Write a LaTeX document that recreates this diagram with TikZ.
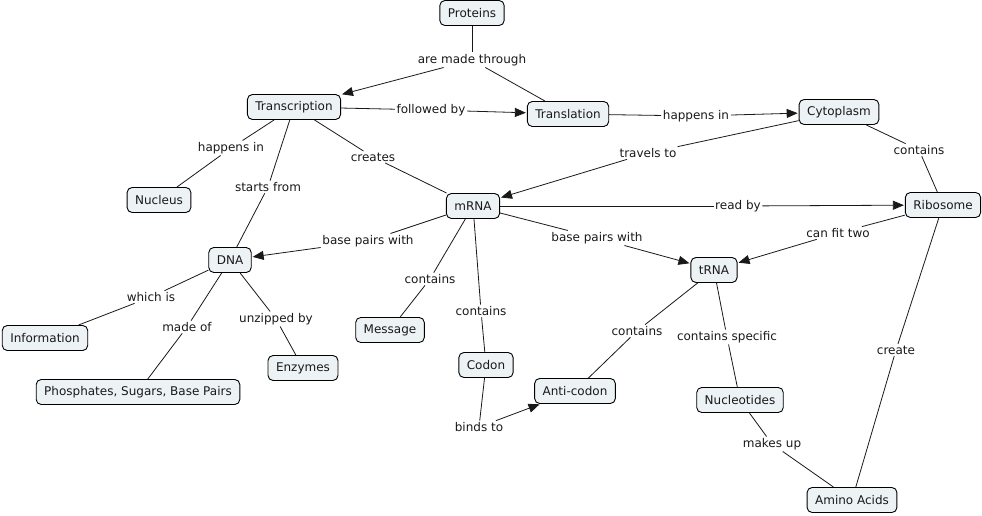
\documentclass[tikz,border=0pt]{standalone}
\usepackage{fontspec}
\setmainfont{DejaVu Sans}
\usetikzlibrary{arrows.meta}
\definecolor{cfill}{RGB}{237,243,245}
\tikzset{
  concept/.style={draw=black, line width=0.9pt, fill=cfill, rounded corners=5pt,
    minimum height=25pt, inner xsep=8pt, inner ysep=0pt, font=\fontsize{12}{14}\selectfont, text=black!90},
  lab/.style={inner sep=1.5pt, font=\fontsize{12}{14}\selectfont, text=black!90},
  link/.style={line width=0.8pt, black!90},
  arr/.style={link, -{Triangle[length=11pt,width=9pt]}, shorten >=1pt},
}
\begin{document}
\begin{tikzpicture}[x=1pt,y=-1pt]
\useasboundingbox (0,0) rectangle (982,516);
% concepts
\node[concept] (prot) at (472,13) {Proteins};
\node[concept] (trsc) at (294,107) {Transcription};
\node[concept] (trsl) at (568,114) {Translation};
\node[concept] (cyto) at (839,112) {Cytoplasm};
\node[concept] (nucl) at (159,200) {Nucleus};
\node[concept] (mrna) at (473,206) {mRNA};
\node[concept] (ribo) at (943,205) {Ribosome};
\node[concept] (dna) at (230,260) {DNA};
\node[concept] (trna) at (714,270) {tRNA};
\node[concept] (info) at (45,338) {Information};
\node[concept] (mess) at (390,330) {Message};
\node[concept] (codon) at (486,365) {Codon};
\node[concept] (anti) at (575,391) {Anti-codon};
\node[concept] (nucs) at (740,400) {Nucleotides};
\node[concept] (phos) at (138,392) {Phosphates, Sugars, Base Pairs};
\node[concept] (enz) at (303,368) {Enzymes};
\node[concept] (amino) at (852,500) {Amino Acids};
% linking phrases
\node[lab] (l1) at (472,60) {are made through};
\node[lab] (l2) at (431,110) {followed by};
\node[lab] (l3) at (696,116) {happens in};
\node[lab] (l4) at (231,148) {happens in};
\node[lab] (l5) at (268,187) {starts from};
\node[lab] (l6) at (373,157) {creates};
\node[lab] (l7) at (648,153) {travels to};
\node[lab] (l8) at (919,150) {contains};
\node[lab] (l9) at (738,206) {read by};
\node[lab] (l10) at (368,241) {base pairs with};
\node[lab] (l11) at (597,238) {base pairs with};
\node[lab] (l12) at (838,233) {can fit two};
\node[lab] (l13) at (151,297) {which is};
\node[lab] (l14) at (187,327) {made of};
\node[lab] (l15) at (276,319) {unzipped by};
\node[lab] (l16) at (430,279) {contains};
\node[lab] (l17) at (481,311) {contains};
\node[lab] (l18) at (637,331) {contains};
\node[lab] (l19) at (727,337) {contains specific};
\node[lab] (l20) at (896,350) {create};
\node[lab] (l21) at (772,444) {makes up};
\node[lab] (l22) at (479,427) {binds to};
% connectors
\draw[link] (prot) -- (l1); \draw[arr] (l1) -- (trsc); \draw[link] (l1) -- (trsl);
\draw[link] (trsc) -- (l2); \draw[arr] (l2) -- (trsl);
\draw[link] (trsl) -- (l3); \draw[arr] (l3) -- (cyto);
\draw[link] (trsc) -- (l4); \draw[link] (l4) -- (nucl);
\draw[link] (trsc) -- (l5); \draw[link] (l5) -- (dna);
\draw[link] (trsc) -- (l6); \draw[link] (l6) -- (mrna);
\draw[link] (cyto) -- (l7); \draw[arr] (l7) -- (mrna);
\draw[link] (cyto) -- (l8); \draw[link] (l8) -- (ribo);
\draw[link] (mrna) -- (l9); \draw[arr] (l9) -- (ribo);
\draw[link] (mrna) -- (l10); \draw[arr] (l10) -- (dna);
\draw[link] (mrna) -- (l11); \draw[arr] (l11) -- (trna);
\draw[link] (ribo) -- (l12); \draw[arr] (l12) -- (trna);
\draw[link] (dna) -- (l13); \draw[link] (l13) -- (info);
\draw[link] (dna) -- (l14); \draw[link] (l14) -- (phos);
\draw[link] (dna) -- (l15); \draw[link] (l15) -- (enz);
\draw[link] (mrna) -- (l16); \draw[link] (l16) -- (mess);
\draw[link] (mrna) -- (l17); \draw[link] (l17) -- (codon);
\draw[link] (trna) -- (l18); \draw[link] (l18) -- (anti);
\draw[link] (trna) -- (l19); \draw[link] (l19) -- (nucs);
\draw[link] (ribo) -- (l20); \draw[link] (l20) -- (amino);
\draw[link] (nucs) -- (l21); \draw[link] (l21) -- (amino);
\draw[link] (codon) -- (l22); \draw[arr] (l22) -- (anti);
\end{tikzpicture}
\end{document}
